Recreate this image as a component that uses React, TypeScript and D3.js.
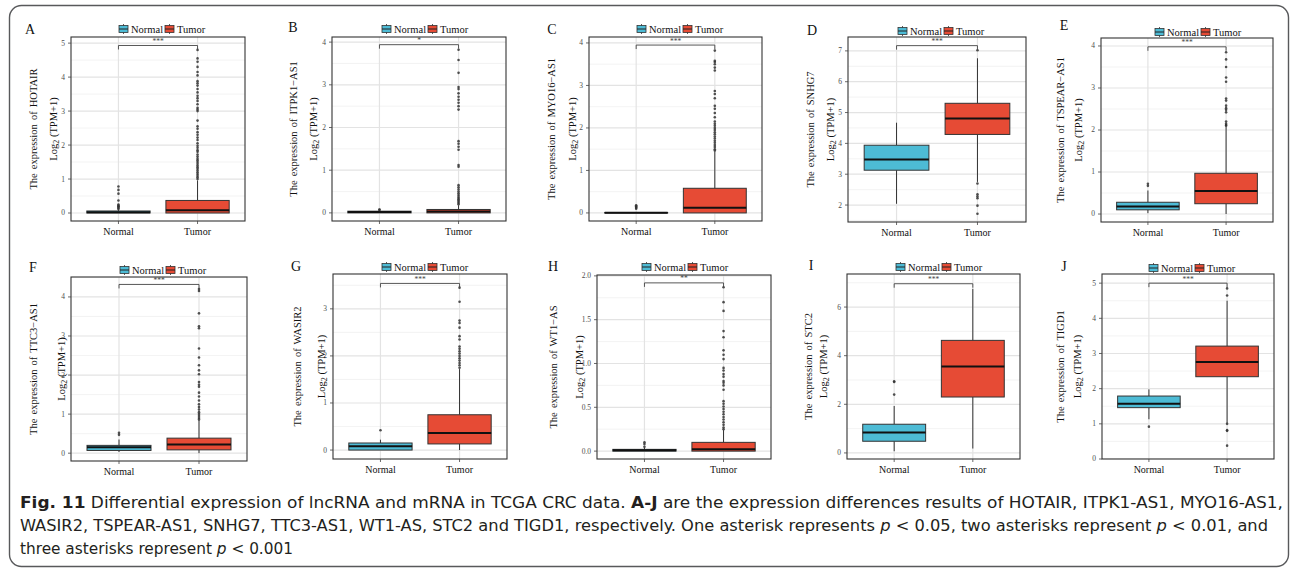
import React from "react";
import * as d3 from "d3";

const W = 1295;
const H = 573;

// ---------- DATA ----------
const panelLetters = ["A", "B", "C", "D", "E", "F", "G", "H", "I", "J"];
const genes = ["HOTAIR", "ITPK1\u2212AS1", "MYO16\u2212AS1", "SNHG7", "TSPEAR\u2212AS1", "TTC3\u2212AS1", "WASIR2", "WT1\u2212AS", "STC2", "TIGD1"];
const groups = ["Normal", "Tumor"];
const signifLabels = ["***", "*", "***", "***", "***", "***", "***", "**", "***", "***"];
const bracketY = [4.93, 3.94, 3.95, 7.17, 3.98, 4.32, 3.54, 1.92, 6.96, 5.0];

// [lower whisker, q1, median, q3, upper whisker]
const normalBoxes = [
  [0, 0, 0.02, 0.06, 0.1],
  [0, 0, 0.02, 0.04, 0.06],
  [0, 0, 0.005, 0.01, 0.02],
  [2.04, 3.13, 3.48, 3.94, 4.67],
  [0.02, 0.1, 0.18, 0.28, 0.56],
  [0.03, 0.07, 0.15, 0.2, 0.35],
  [0, 0, 0.08, 0.15, 0.22],
  [0, 0, 0.01, 0.02, 0.04],
  [0.07, 0.48, 0.84, 1.18, 1.93],
  [1.13, 1.46, 1.57, 1.79, 1.98],
];
const tumorBoxes = [
  [0, 0, 0.08, 0.37, 0.96],
  [0, 0, 0.03, 0.08, 0.18],
  [0, 0, 0.12, 0.58, 1.45],
  [2.75, 4.29, 4.81, 5.3, 6.76],
  [0, 0.245, 0.55, 0.97, 2.08],
  [0, 0.085, 0.22, 0.385, 0.84],
  [0, 0.13, 0.36, 0.75, 1.72],
  [0, 0, 0.02, 0.1, 0.24],
  [0.18, 2.3, 3.56, 4.63, 6.75],
  [1.02, 2.34, 2.76, 3.21, 4.5],
];
const normalOutliers = [
  [0.78, 0.68, 0.57, 0.37, 0.25, 0.22, 0.2, 0.18, 0.15, 0.12],
  [0.07, 0.08],
  [0.1, 0.12, 0.14, 0.16, 0.18],
  [],
  [0.67, 0.72],
  [0.47, 0.52],
  [0.42],
  [0.05, 0.08, 0.1],
  [2.4, 2.92, 2.95],
  [0.92],
];
const tumorOutliers = [
  [4.8, 4.55, 4.45, 4.3, 4.15, 4.05, 3.88, 3.82, 3.75, 3.65, 3.55, 3.45, 3.38, 3.3, 3.2, 3.1, 3.05, 3.0, 2.72, 2.55, 2.48, 2.38, 2.3, 2.22, 2.15, 2.05, 1.98, 1.92, 1.85, 1.8, 1.72, 1.66, 1.6, 1.55, 1.5, 1.45, 1.4, 1.35, 1.3, 1.25, 1.2, 1.15, 1.1, 1.05, 1.0],
  [3.82, 3.58, 3.28, 2.95, 2.9, 2.8, 2.72, 2.65, 2.58, 2.5, 2.42, 1.68, 1.62, 1.55, 1.48, 1.12, 1.08, 0.65, 0.6, 0.55, 0.5, 0.46, 0.42, 0.38, 0.35, 0.32, 0.29, 0.26, 0.23, 0.2],
  [3.82, 3.58, 3.55, 3.5, 3.42, 3.35, 2.87, 2.8, 2.7, 2.52, 2.45, 2.35, 2.25, 2.15, 2.1, 2.05, 2.0, 1.95, 1.9, 1.85, 1.8, 1.75, 1.7, 1.65, 1.6, 1.55, 1.5, 1.47],
  [7.02, 2.7, 2.35, 2.28, 2.22, 1.98, 1.72],
  [3.85, 3.68, 3.5, 3.25, 3.15, 2.75, 2.7, 2.58, 2.52, 2.48, 2.42, 2.2, 2.15, 2.12, 2.1],
  [4.2, 4.15, 3.58, 3.25, 3.2, 2.68, 2.45, 2.25, 2.12, 2.02, 1.82, 1.75, 1.7, 1.55, 1.45, 1.35, 1.25, 1.18, 1.12, 1.05, 1.0, 0.95, 0.9, 0.86],
  [3.45, 3.15, 2.75, 2.7, 2.6, 2.42, 2.35, 2.2, 2.15, 2.1, 2.05, 2.0, 1.95, 1.9, 1.85, 1.8, 1.75],
  [1.87, 1.7, 1.6, 1.37, 1.3, 1.15, 1.1, 1.05, 0.95, 0.92, 0.88, 0.85, 0.8, 0.78, 0.75, 0.7, 0.57, 0.54, 0.51, 0.48, 0.45, 0.42, 0.39, 0.36, 0.33, 0.3, 0.27, 0.25],
  [],
  [4.85, 4.65, 1.0, 0.82, 0.8, 0.38],
];
const yTicks = [
  [0, 1, 2, 3, 4, 5],
  [0, 1, 2, 3, 4],
  [0, 1, 2, 3, 4],
  [2, 3, 4, 5, 6, 7],
  [0, 1, 2, 3, 4],
  [0, 1, 2, 3, 4],
  [0, 1, 2, 3],
  [0, 0.5, 1, 1.5, 2],
  [0, 2, 4, 6],
  [0, 1, 2, 3, 4, 5],
];
const yTickFormats = ["d", "d", "d", "d", "d", "d", "d", ".1f", "d", "d"];
const yDomains = [
  [-0.235, 5.18],
  [-0.19, 4.12],
  [-0.19, 4.14],
  [1.45, 7.45],
  [-0.19, 4.19],
  [-0.2, 4.51],
  [-0.19, 3.74],
  [-0.09, 2.01],
  [-0.25, 7.36],
  [0, 5.26],
];

// ---------- LAYOUT ----------
const layouts = [
  { x0: 71, x1: 245, y0: 37, y1: 221, lx: 30, ly: 34, legX: 161, legY: 29, t1: 33, t2: 53 },
  { x0: 332, x1: 506, y0: 37, y1: 221, lx: 293, ly: 32, legX: 424, legY: 29, t1: 293, t2: 313 },
  { x0: 589, x1: 762, y0: 37, y1: 221, lx: 552, ly: 34, legX: 679, legY: 29, t1: 551, t2: 572 },
  { x0: 848, x1: 1026, y0: 37, y1: 222, lx: 812, ly: 35, legX: 940, legY: 31, t1: 810, t2: 830 },
  { x0: 1101, x1: 1273, y0: 38, y1: 222, lx: 1064, ly: 30, legX: 1197, legY: 32, t1: 1060, t2: 1078 },
  { x0: 71, x1: 247, y0: 277, y1: 461, lx: 33, ly: 272, legX: 162, legY: 270, t1: 33, t2: 61 },
  { x0: 333, x1: 507, y0: 274, y1: 459, lx: 296, ly: 271, legX: 424, legY: 267, t1: 297, t2: 321 },
  { x0: 597, x1: 771, y0: 275, y1: 459, lx: 553, ly: 271, legX: 684, legY: 267, t1: 553, t2: 579 },
  { x0: 847, x1: 1020, y0: 274, y1: 459, lx: 811, ly: 270, legX: 938, legY: 267, t1: 808, t2: 823 },
  { x0: 1102, x1: 1274, y0: 274, y1: 459, lx: 1064, ly: 271, legX: 1191, legY: 268, t1: 1060, t2: 1077 },
];

const fills = ["#4DBBD5", "#E64B35"];
const serif = "'Liberation Serif', 'Times New Roman', serif";

function LegendKey({ x, y, fill }: { x: number; y: number; fill: string }) {
  return (
    <g>
      <line x1={x + 4.5} x2={x + 4.5} y1={y - 5} y2={y + 5} stroke="#333" strokeWidth={0.8} />
      <rect x={x} y={y - 3.5} width={9} height={7} fill={fill} stroke="#333" strokeWidth={0.8} />
      <line x1={x} x2={x + 9} y1={y} y2={y} stroke="#222" strokeWidth={1} />
    </g>
  );
}

function Panel({ i }: { i: number }) {
  const L = layouts[i];
  const y = d3.scaleLinear().domain(yDomains[i]).range([L.y1, L.y0]);
  const x = d3.scalePoint<string>().domain(groups).range([L.x0, L.x1]).padding(0.6);
  const step = x.step();
  const bw = step * 0.8;
  const ticks = yTicks[i];
  const tstep = ticks[1] - ticks[0];
  const [dmin, dmax] = yDomains[i];
  const minors = [...ticks.map((t) => t - tstep / 2), ticks[ticks.length - 1] + tstep / 2].filter(
    (v) => v >= dmin && v <= dmax
  );
  const fmt = d3.format(yTickFormats[i]);
  const boxes = [normalBoxes[i], tumorBoxes[i]];
  const outs = [normalOutliers[i], tumorOutliers[i]];
  const cy = (L.y0 + L.y1) / 2;
  const by = y(bracketY[i]);
  const xN = x("Normal")!;
  const xT = x("Tumor")!;
  const legStart = L.legX - 42;

  return (
    <g>
      <defs>
        <clipPath id={`clip${i}`}>
          <rect x={L.x0} y={L.y0} width={L.x1 - L.x0} height={L.y1 - L.y0} />
        </clipPath>
      </defs>
      <text x={L.lx} y={L.ly} fontFamily={serif} fontSize={14} textAnchor="middle" fill="#111">
        {panelLetters[i]}
      </text>
      <LegendKey x={legStart} y={L.legY} fill={fills[0]} />
      <text x={legStart + 12} y={L.legY + 3.5} fontFamily={serif} fontSize={10.5} fill="#111">
        Normal
      </text>
      <LegendKey x={legStart + 46} y={L.legY} fill={fills[1]} />
      <text x={legStart + 58} y={L.legY + 3.5} fontFamily={serif} fontSize={10.5} fill="#111">
        Tumor
      </text>
      <g clipPath={`url(#clip${i})`}>
        {minors.map((v, k) => (
          <line key={"m" + k} x1={L.x0} x2={L.x1} y1={y(v)} y2={y(v)} stroke="#f0f0f0" strokeWidth={0.8} />
        ))}
        {ticks.map((v, k) => (
          <line key={"M" + k} x1={L.x0} x2={L.x1} y1={y(v)} y2={y(v)} stroke="#e3e3e3" strokeWidth={1.2} />
        ))}
        {groups.map((g) => (
          <line key={g} x1={x(g)} x2={x(g)} y1={L.y0} y2={L.y1} stroke="#e3e3e3" strokeWidth={1.2} />
        ))}
        {groups.map((g, gi) => {
          const [lo, q1, med, q3, hi] = boxes[gi];
          const cx = x(g)!;
          return (
            <g key={g}>
              <line x1={cx} x2={cx} y1={y(hi)} y2={y(q3)} stroke="#333" strokeWidth={1} />
              <line x1={cx} x2={cx} y1={y(q1)} y2={y(lo)} stroke="#333" strokeWidth={1} />
              <rect
                x={cx - bw / 2}
                y={y(q3)}
                width={bw}
                height={Math.max(y(q1) - y(q3), 0.5)}
                fill={fills[gi]}
                stroke="#333"
                strokeWidth={1}
              />
              <line x1={cx - bw / 2} x2={cx + bw / 2} y1={y(med)} y2={y(med)} stroke="#111" strokeWidth={2} />
              {outs[gi].map((v, k) => (
                <circle key={k} cx={cx} cy={y(v)} r={1.3} fill="#333" fillOpacity={0.85} />
              ))}
            </g>
          );
        })}
        <path
          d={`M${xN},${by + 4}V${by}H${xT}V${by + 4}`}
          fill="none"
          stroke="#444"
          strokeWidth={0.9}
        />
        <text x={(xN + xT) / 2} y={by - 1.5} textAnchor="middle" fontFamily={serif} fontSize={7.5} fill="#444">
          {signifLabels[i]}
        </text>
      </g>
      <rect x={L.x0} y={L.y0} width={L.x1 - L.x0} height={L.y1 - L.y0} fill="none" stroke="#333" strokeWidth={1.1} />
      {ticks.map((v, k) => (
        <g key={"yt" + k}>
          <line x1={L.x0 - 3} x2={L.x0} y1={y(v)} y2={y(v)} stroke="#444" strokeWidth={0.8} />
          <text x={L.x0 - 6} y={y(v)} dy="0.33em" textAnchor="end" fontFamily={serif} fontSize={7.5} fill="#4d4d4d">
            {fmt(v)}
          </text>
        </g>
      ))}
      {groups.map((g) => (
        <g key={"xt" + g}>
          <line x1={x(g)} x2={x(g)} y1={L.y1} y2={L.y1 + 3} stroke="#444" strokeWidth={0.8} />
          <text x={x(g)} y={L.y1 + 14} textAnchor="middle" fontFamily={serif} fontSize={10} fill="#111">
            {g}
          </text>
        </g>
      ))}
      <text
        transform={`translate(${L.t1},${cy}) rotate(-90)`}
        textAnchor="middle"
        dominantBaseline="central"
        fontFamily={serif}
        fontSize={10.5}
        wordSpacing={1.5}
        fill="#111"
      >
        {`The expression of ${genes[i]}`}
      </text>
      <text
        transform={`translate(${L.t2},${cy}) rotate(-90)`}
        textAnchor="middle"
        dominantBaseline="central"
        fontFamily={serif}
        fontSize={10.5}
        fill="#111"
      >
        Log
        <tspan fontSize={8} dy={3}>
          2
        </tspan>
        <tspan dy={-3}> (TPM+1)</tspan>
      </text>
    </g>
  );
}

const captionFont = "'Liberation Sans Narrow', 'DejaVu Sans Condensed', 'Liberation Sans', 'Noto Sans', sans-serif";

export default function App() {
  return (
    <svg
      width={W}
      height={H}
      viewBox={`0 0 ${W} ${H}`}
      style={{ position: "absolute", left: 0, top: 0, background: "#fff" }}
    >
      <rect x={0} y={0} width={W} height={H} fill="#fff" />
      <rect x={9.5} y={5.5} width={1279} height={561} rx={12} ry={12} fill="none" stroke="#58595b" strokeWidth={1.4} />
      {panelLetters.map((_, i) => (
        <Panel key={i} i={i} />
      ))}
      <g fontFamily={captionFont} fontSize={16.5} fill="#231f20">
        <text x={20} y={508} textLength={1263} lengthAdjust="spacingAndGlyphs">
          <tspan fontWeight="bold">Fig. 11</tspan>
          {"  Differential expression of lncRNA and mRNA in TCGA CRC data. "}
          <tspan fontWeight="bold">A-J</tspan>
          {" are the expression differences results of HOTAIR, ITPK1-AS1, MYO16-AS1,"}
        </text>
        <text x={20} y={531} textLength={1248} lengthAdjust="spacingAndGlyphs">
          {"WASIR2, TSPEAR-AS1, SNHG7, TTC3-AS1, WT1-AS, STC2 and TIGD1, respectively. One asterisk represents "}
          <tspan fontStyle="italic">p</tspan>
          {" < 0.05, two asterisks represent "}
          <tspan fontStyle="italic">p</tspan>
          {" < 0.01, and"}
        </text>
        <text x={20} y={554} textLength={273} lengthAdjust="spacingAndGlyphs">
          {"three asterisks represent "}
          <tspan fontStyle="italic">p</tspan>
          {" < 0.001"}
        </text>
      </g>
    </svg>
  );
}
